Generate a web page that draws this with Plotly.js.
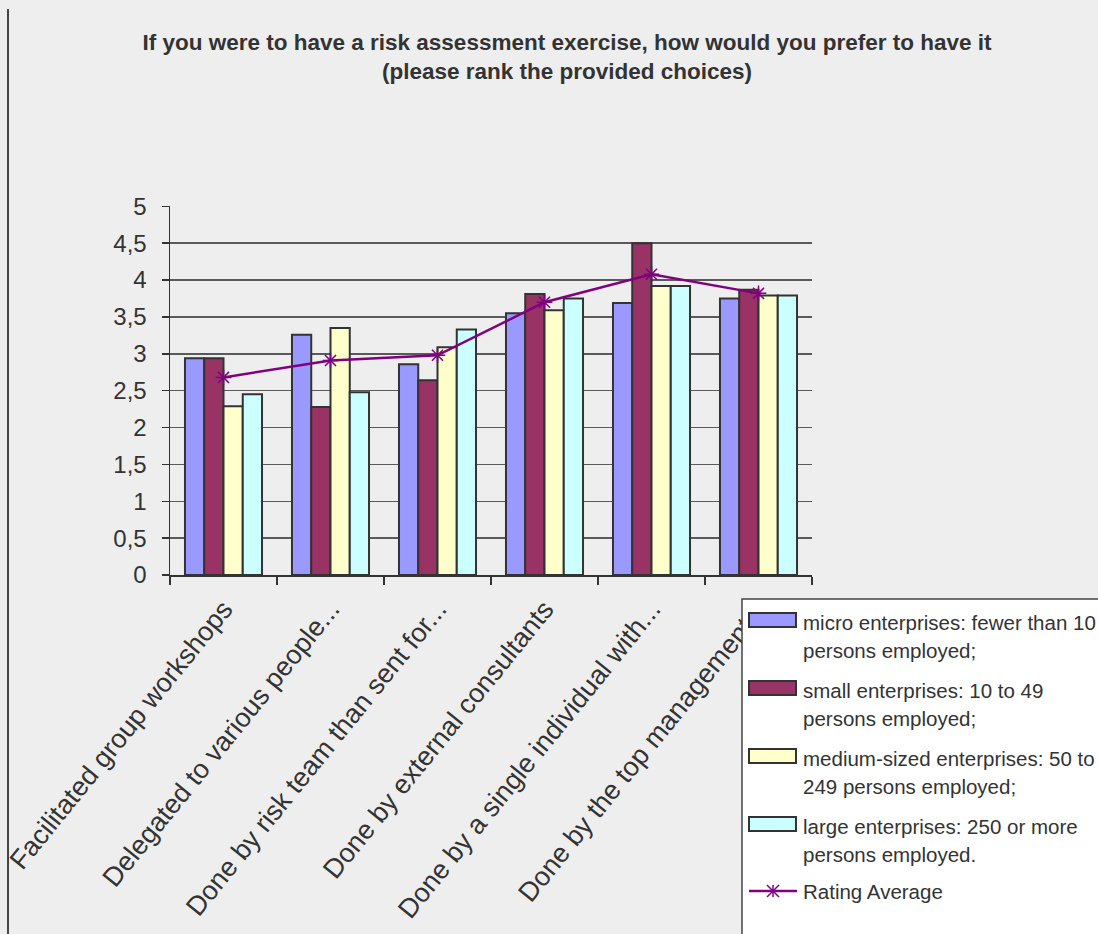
<!DOCTYPE html>
<html>
<head>
<meta charset="utf-8">
<script src="https://cdn.plot.ly/plotly-3.0.1.min.js"></script>
<style>
  html, body { margin: 0; padding: 0; background: #eeeeee; }
  #chart { width: 1098px; height: 934px; }
</style>
</head>
<body>
<div id="chart"></div>
<script>
// Survey answers: preferred way of running a risk assessment, ranked by enterprise size
const categories = [
  "Facilitated group workshops",
  "Delegated to various people...",
  "Done by risk team than sent for...",
  "Done by external consultants",
  "Done by a single individual with...",
  "Done by the top management..."
];

// legend labels, one array per wrapped line
const seriesNames = [
  ["micro enterprises: fewer than 10", "persons employed;"],
  ["small enterprises: 10 to 49", "persons employed;"],
  ["medium-sized enterprises: 50 to", "249 persons employed;"],
  ["large enterprises: 250 or more", "persons employed."]
];

const microValues  = [2.94, 3.26, 2.86, 3.55, 3.69, 3.75];
const smallValues  = [2.94, 2.28, 2.64, 3.81, 4.50, 3.87];
const mediumValues = [2.29, 3.35, 3.09, 3.59, 3.92, 3.79];
const largeValues  = [2.45, 2.48, 3.33, 3.75, 3.92, 3.79];

const averageName = "Rating Average";
const averageValues = [2.68, 2.91, 2.98, 3.70, 4.08, 3.82];

const yTickValues = [0, 0.5, 1, 1.5, 2, 2.5, 3, 3.5, 4, 4.5, 5];

const barColors = ["#9999ff", "#993366", "#ffffcc", "#ccffff"];
const lineColor = "#800080";
const outline = "#333333";
const barSeries = [microValues, smallValues, mediumValues, largeValues];

const traces = barSeries.map((vals, i) => ({
  type: "bar",
  name: seriesNames[i].join(" "),
  x: categories,
  y: vals,
  marker: { color: barColors[i], line: { color: outline, width: 2 } },
  showlegend: false
}));

traces.push({
  type: "scatter",
  mode: "lines+markers",
  name: averageName,
  x: categories,
  y: averageValues,
  line: { color: lineColor, width: 2.5 },
  marker: { symbol: "asterisk-open", size: 13, color: lineColor, line: { color: lineColor, width: 1.5 } },
  showlegend: false
});

// plot area spans x 170..812 and y 206..575 in page pixels
const L = 170, R = 812, T = 206, B = 575, W = 1098, H = 934;
const px = v => (v - L) / (R - L);
const py = v => (B - v) / (B - T);

// ---- legend box drawn with shapes and annotations ----
const shapes = [];
const annotations = [];

// frame line down the left edge of the page
shapes.push({
  type: "line", xref: "paper", yref: "paper",
  x0: px(8), x1: px(8), y0: py(9), y1: py(H + 5),
  line: { color: "#444444", width: 2 }
});

// white legend panel
shapes.push({
  type: "rect", xref: "paper", yref: "paper",
  x0: px(742), x1: px(W + 10), y0: py(599), y1: py(H + 10),
  fillcolor: "#ffffff", line: { color: "#444444", width: 1.5 }
});

const legendFont = { family: "Liberation Sans, Arial, sans-serif", size: 20.5, color: "#333333" };
const entryTops = [613, 681, 749, 817];
const textX = 801;

seriesNames.forEach((lines, i) => {
  const top = entryTops[i];
  shapes.push({
    type: "rect", xref: "paper", yref: "paper",
    x0: px(749), x1: px(796), y0: py(top), y1: py(top + 14),
    fillcolor: barColors[i], line: { color: outline, width: 2 }
  });
  lines.forEach((t, j) => {
    annotations.push({
      xref: "paper", yref: "paper",
      x: px(textX), y: py(top + 9 + j * 28.5),
      xanchor: "left", yanchor: "middle",
      text: t, showarrow: false, font: legendFont
    });
  });
});

// Rating Average entry: line with an asterisk marker
const avgY = 891, avgMid = 773, s = 6;
shapes.push({
  type: "line", xref: "paper", yref: "paper",
  x0: px(749), x1: px(797), y0: py(avgY), y1: py(avgY),
  line: { color: lineColor, width: 2.5 }
});
shapes.push({
  type: "line", xref: "paper", yref: "paper",
  x0: px(avgMid), x1: px(avgMid), y0: py(avgY - s), y1: py(avgY + s),
  line: { color: lineColor, width: 1.5 }
});
shapes.push({
  type: "line", xref: "paper", yref: "paper",
  x0: px(avgMid - s), x1: px(avgMid + s), y0: py(avgY - s), y1: py(avgY + s),
  line: { color: lineColor, width: 1.5 }
});
shapes.push({
  type: "line", xref: "paper", yref: "paper",
  x0: px(avgMid - s), x1: px(avgMid + s), y0: py(avgY + s), y1: py(avgY - s),
  line: { color: lineColor, width: 1.5 }
});
annotations.push({
  xref: "paper", yref: "paper",
  x: px(textX), y: py(avgY),
  xanchor: "left", yanchor: "middle",
  text: averageName, showarrow: false, font: legendFont
});

const layout = {
  width: W,
  height: H,
  paper_bgcolor: "#eeeeee",
  plot_bgcolor: "#eeeeee",
  separators: ",.",
  margin: { l: L, r: W - R, t: T, b: H - B, autoexpand: false },
  barmode: "group",
  bargap: 0.28,
  bargroupgap: 0,
  font: { family: "Liberation Sans, Arial, sans-serif", color: "#333333" },
  title: {
    text: "<b>If you were to have a risk assessment exercise, how would you prefer to have it<br>(please rank the provided choices)</b>",
    font: { family: "Liberation Sans, Arial, sans-serif", size: 22.5, color: "#333333" },
    xref: "container",
    yref: "container",
    x: 567 / W,
    xanchor: "center",
    y: 1 - 50 / H,
    yanchor: "top"
  },
  xaxis: {
    type: "category",
    tickangle: -51,
    tickfont: { size: 27, color: "#333333" },
    showline: true,
    linecolor: "#333333",
    linewidth: 1.5,
    ticks: "outside",
    tickson: "boundaries",
    ticklen: 8,
    tickcolor: "#333333",
    tickwidth: 1.5,
    ticklabelstandoff: 6,
    showgrid: false,
    zeroline: false,
    automargin: false
  },
  yaxis: {
    range: [0, 5.005],
    tickvals: yTickValues,
    tickformat: ".1~f",
    tickfont: { size: 24, color: "#333333" },
    showline: true,
    linecolor: "#333333",
    linewidth: 1.5,
    ticks: "outside",
    ticklen: 7,
    tickcolor: "#333333",
    tickwidth: 1.5,
    ticklabelstandoff: 10,
    showgrid: true,
    gridcolor: "#5a5a5a",
    gridwidth: 1.5,
    zeroline: false,
    automargin: false
  },
  shapes: shapes,
  annotations: annotations,
  showlegend: false
};

Plotly.newPlot("chart", traces, layout, { displayModeBar: false, staticPlot: true });
</script>
</body>
</html>
